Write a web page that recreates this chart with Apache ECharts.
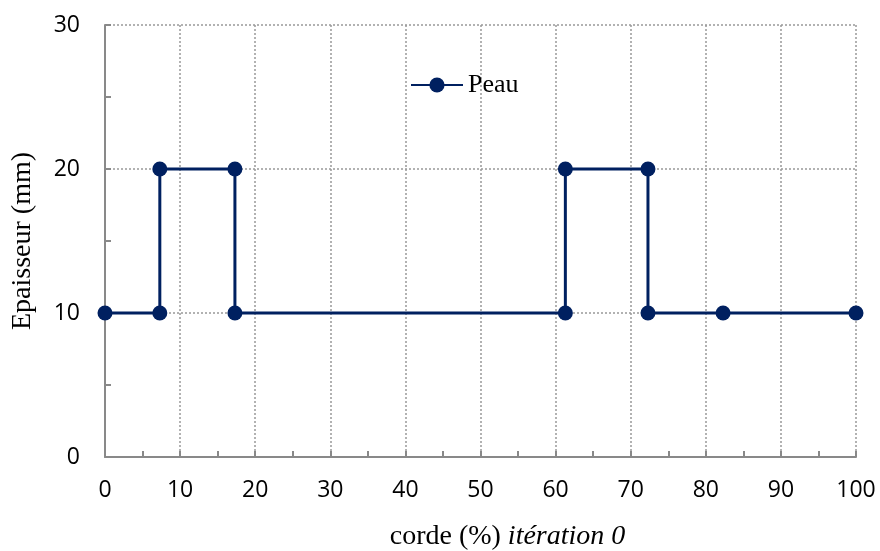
<!DOCTYPE html>
<html><head><meta charset="utf-8">
<script src="https://cdn.jsdelivr.net/npm/echarts@6/dist/echarts.min.js"></script>
<style>html,body{margin:0;padding:0;background:#fff}#c{width:880px;height:551px}</style>
</head><body><div id="c"></div>
<script>
var xValues = [0, 7.3, 7.3, 17.3, 17.3, 61.3, 61.3, 72.3, 72.3, 82.3, 100];
var yValues = [10, 10, 20, 20, 10, 10, 20, 20, 10, 10, 10];
var seriesName = 'Peau';
var xTitle = 'corde (%) ';
var xTitleItalic = 'itération 0';
var yTitle = 'Epaisseur (mm)';

var data = xValues.map(function (x, i) { return [x, yValues[i]]; });
var chart = echarts.init(document.getElementById('c'), null, {renderer: 'canvas'});
var axisCol = '#898989';
chart.setOption({
  animation: false,
  backgroundColor: '#fff',
  grid: {left: 105, right: 24, top: 25, bottom: 94, containLabel: false, outerBoundsMode: 'none'},
  legend: {
    left: 410, top: 72, padding: 0, itemWidth: 52, itemHeight: 19, itemGap: 4,
    textStyle: {fontFamily: 'Liberation Serif', fontSize: 26, color: '#000'},
    data: [seriesName]
  },
  xAxis: {
    type: 'value', min: 0, max: 100, interval: 10,
    name: '{a|' + xTitle + '}{b|' + xTitleItalic + '}',
    nameLocation: 'middle', nameGap: 66,
    nameTextStyle: {padding: [0, 0, 0, 54], rich: {
      a: {fontFamily: 'Liberation Serif', fontSize: 28, color: '#000'},
      b: {fontFamily: 'Liberation Serif', fontSize: 28, fontStyle: 'italic', color: '#000'}
    }},
    axisLine: {show: true, lineStyle: {color: axisCol, width: 2}},
    axisTick: {show: true, inside: true, length: 6, lineStyle: {color: axisCol, width: 2}},
    minorTick: {show: true, splitNumber: 2, length: 6, lineStyle: {color: axisCol, width: 2}},
    axisLabel: {margin: 22, fontFamily: 'Open Sans', fontSize: 23, color: '#000'},
    splitLine: {show: true, lineStyle: {color: '#999', type: [2, 2], width: 1.5}}
  },
  yAxis: {
    type: 'value', min: 0, max: 30, interval: 10,
    name: yTitle, nameLocation: 'middle', nameGap: 68,
    nameTextStyle: {fontFamily: 'Liberation Serif', fontSize: 28, color: '#000'},
    axisLine: {show: true, lineStyle: {color: axisCol, width: 2}},
    axisTick: {show: true, inside: true, length: 6, lineStyle: {color: axisCol, width: 2}},
    minorTick: {show: true, splitNumber: 2, length: 6, lineStyle: {color: axisCol, width: 2}},
    axisLabel: {margin: 25, fontFamily: 'Open Sans', fontSize: 23, color: '#000'},
    splitLine: {show: true, lineStyle: {color: '#999', type: [2, 2], width: 1.5}}
  },
  series: [{
    name: seriesName, type: 'line', data: data,
    symbol: 'circle', symbolSize: 15,
    lineStyle: {color: '#002060', width: 3},
    itemStyle: {color: '#002060'}
  }]
});
</script></body></html>
